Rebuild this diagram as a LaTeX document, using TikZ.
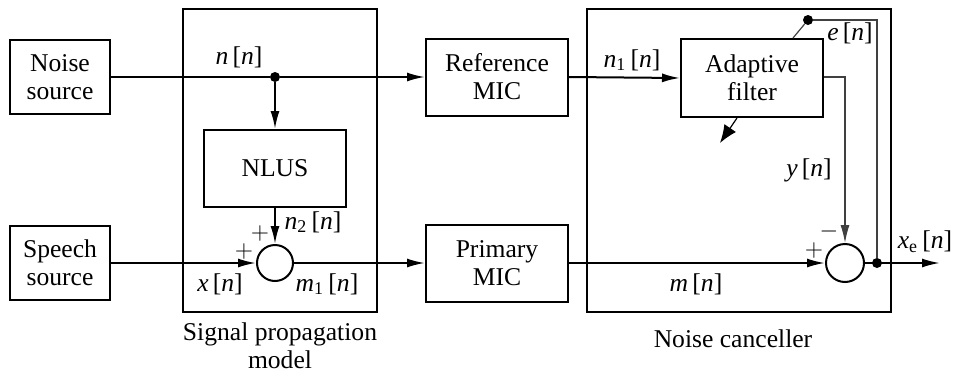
\documentclass[tikz,border=0pt]{standalone}
\usepackage{fontspec}
\setmainfont{Liberation Serif}
\newfontfamily\tms{Liberation Serif}
\usetikzlibrary{arrows.meta,positioning,calc}

\tikzset{
  blk/.style={draw,line width=1pt,rectangle,align=center,font=\tms\fontsize{12.8}{14}\selectfont},
  frame/.style={draw,line width=1pt,rectangle},
  summer/.style={draw,line width=1pt,circle,inner sep=0pt},
  sig/.style={line width=1pt,-{Latex[length=9pt,width=4.5pt]}},
  aux/.style={line width=0.6pt,black!75},
  lbl/.style={font=\tms\fontsize{12.8}{14}\selectfont,inner sep=1pt},
  dot/.style={circle,fill,inner sep=0pt,minimum size=5pt}
}

\begin{document}
\begin{tikzpicture}[x=0.5pt,y=-0.5pt]
    \useasboundingbox (0,0) rectangle (955,381);

    % Sources
    \node[blk,minimum width=50pt,minimum height=37pt] (noise) at (60,77) {Noise\\source};
    \node[blk,minimum width=50pt,minimum height=37pt] (speech) at (60,263) {Speech\\source};

    % Signal propagation model
    \node[frame,minimum width=97pt,minimum height=151.5pt] (spm) at (280,160.5) {};
    \node[dot] (split) at (275,77) {};
    \node[blk,minimum width=71pt,minimum height=38.5pt] (nlus) at (275,168.5) {NLUS};
    \node[summer,minimum size=18pt] (sum1) at (275,263) {};

    % Microphones
    \node[blk,minimum width=71pt,minimum height=38.5pt] (refmic) at (497,77) {Reference\\MIC};
    \node[blk,minimum width=71pt,minimum height=38.5pt] (primic) at (497,263) {Primary\\MIC};

    % Noise canceller
    \node[frame,minimum width=152pt,minimum height=151.5pt] (nc) at (739,160.5) {};
    \node[blk,minimum width=71pt,minimum height=39pt] (adf) at (752,78) {Adaptive\\filter};
    \node[summer,minimum size=19pt] (sum2) at (845,263) {};
    \node[dot] (outdot) at (877,263) {};
    \node[dot] (edot) at (808,20) {};
    \coordinate (etap) at ($(adf.north)+(41,0)$);
    \coordinate (adjA) at ($(adf.south)+(-15,0)$);
    \coordinate (adjB) at ($(adjA)+(-17,25)$);
    \coordinate (out) at (940,263);

    % Arrows
    \draw[line width=1pt] (noise.east) -- (split);
    \draw[sig] (split) -- (refmic.west);
    \draw[sig] (split) -- (nlus.north);
    \draw[sig] (nlus.south) -- (sum1.north);
    \draw[sig] (speech.east) -- (sum1.west);
    \draw[sig] (sum1.east) -- (primic.west);
    \draw[sig] (refmic.east) -- (adf.west);
    \draw[sig] (primic.east) -- (sum2.west);
    \draw[sig] (sum2.east) -- (out);
    \draw[aux,-{Latex[length=9pt,width=4.5pt]}] (adf.east |- 0,77) -| (sum2.north);
    \draw[aux] (outdot) |- (edot);
    \draw[aux] (edot) -- (etap);
    \draw[line width=0.6pt,-{Latex[length=9pt,width=7pt]}] (adjA) -- (adjB);

    % Annotations
    \node[lbl] (lbln) at (239,57) {\textit{n}\,[\textit{n}]};
    \node[lbl] (lbln2) at (313,222) {\textit{n}\textsubscript{2}\,[\textit{n}]};
    \node[lbl] (plus1) at (260,233) {$+$};
    \node[lbl] (plus2) at (244,251) {$+$};
    \node[lbl] (lblx) at (220,284) {\textit{x}\,[\textit{n}]};
    \node[lbl] (lblm1) at (327,284) {\textit{m}\textsubscript{1}\,[\textit{n}]};
    \node[lbl] (lbln1) at (632,60) {\textit{n}\textsubscript{1}\,[\textit{n}]};
    \node[lbl] (lble) at (850,33) {\textit{e}\,[\textit{n}]};
    \node[lbl] (lbly) at (809,170) {\textit{y}\,[\textit{n}]};
    \node[lbl] (minus) at (829,231) {$-$};
    \node[lbl] (plus3) at (814,250) {$+$};
    \node[lbl] (lblm) at (696,284) {\textit{m}\,[\textit{n}]};
    \node[lbl] (lblxe) at (925,242) {\textit{x}\textsubscript{e}\,[\textit{n}]};

    % Captions
    \node[lbl,align=center] (capspm) at (280,346) {Signal propagation\\model};
    \node[lbl] (capnc) at (733,339) {Noise canceller};
\end{tikzpicture}
\end{document}
